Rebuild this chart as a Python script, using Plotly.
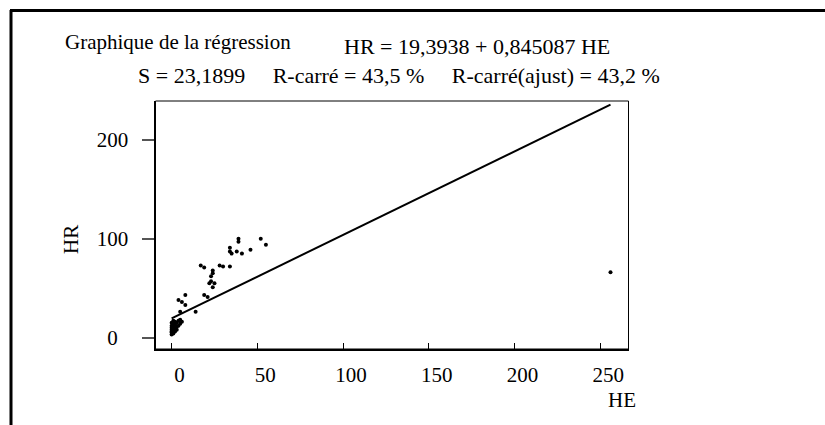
import plotly.graph_objects as go

# Observations: heures HE and HR
he = [0, 0, 0, 0, 0, 0, 0, 1, 1, 1, 1, 1, 1, 2, 2, 2, 2, 3, 3, 3, 4, 4, 5, 5, 6,
      4, 6, 8, 5, 8, 14, 19, 21, 17, 19, 28, 30, 34, 24, 24, 23, 23, 25, 24, 22,
      34, 34, 35, 38, 41, 39, 39, 46, 52, 55, 256]
hr = [3, 5, 6, 8, 10, 12, 15, 4, 7, 9, 11, 14, 17, 6, 9, 13, 16, 8, 11, 15, 12, 17, 14, 18, 16,
      38, 36, 33, 26, 43, 26, 43, 41, 73, 71, 73, 72, 72, 68, 65, 62, 57, 55, 51, 55,
      91, 87, 85, 87, 85, 100, 97, 89, 100, 94, 66]

# Fitted regression
intercept = 19.3938
slope = 0.845087
s_value = "23,1899"
r2 = "43,5"
r2_adj = "43,2"

x_ticks = [0, 50, 100, 150, 200, 250]
y_ticks = [0, 100, 200]
# y labels are centred under one another: pad short labels with figure spaces
y_labels = [str(v) + "\u2007" * ((3 - len(str(v))) // 2) for v in y_ticks]

W, H = 825, 425
FONT = "Liberation Serif, Times New Roman, serif"


def px(x):
    return x / W


def py(y):
    return 1 - y / H


x_line = [min(he), max(he)]
y_line = [intercept + slope * v for v in x_line]

fig = go.Figure()
fig.add_trace(go.Scatter(x=he, y=hr, mode="markers",
                         marker=dict(color="black", size=4, symbol="circle"),
                         showlegend=False, hoverinfo="skip"))
fig.add_trace(go.Scatter(x=x_line, y=y_line, mode="lines",
                         line=dict(color="black", width=2),
                         showlegend=False, hoverinfo="skip"))

fig.update_layout(
    width=W, height=H,
    margin=dict(l=0, r=0, t=0, b=0),
    paper_bgcolor="white", plot_bgcolor="white",
    font=dict(family=FONT, size=21, color="black"),
    xaxis=dict(domain=[px(155.5), px(628.5)], range=[-9.4, 266.5],
               tickvals=x_ticks, ticktext=[str(v) for v in x_ticks],
               ticks="inside", ticklen=6, tickcolor="black", tickwidth=1,
               showline=True, linecolor="black", linewidth=2,
               showgrid=False, zeroline=False,
               ticklabelshift=8, ticklabelstandoff=6),
    yaxis=dict(domain=[py(349), py(101)], range=[-11.6, 239.5],
               tickvals=y_ticks, ticktext=y_labels,
               ticks="outside", ticklen=12, tickcolor="#555555", tickwidth=2,
               showline=True, linecolor="black", linewidth=2,
               showgrid=False, zeroline=False,
               ticklabelstandoff=9),
    shapes=[
        # thin box around the plotting area
        dict(type="rect", xref="paper", yref="paper",
             x0=px(155.5), x1=px(628.5), y0=py(349), y1=py(101),
             line=dict(color="black", width=1)),
        # outer frame: left and top edges
        dict(type="line", xref="paper", yref="paper",
             x0=px(11), x1=px(11), y0=py(10), y1=0,
             line=dict(color="black", width=3)),
        dict(type="line", xref="paper", yref="paper",
             x0=px(10), x1=1, y0=py(10.5), y1=py(10.5),
             line=dict(color="black", width=3)),
    ],
    annotations=[
        dict(text="Graphique de la régression", xref="paper", yref="paper",
             x=px(63), y=py(42), xanchor="left", yanchor="middle",
             showarrow=False, font=dict(size=21)),
        dict(text=f"HR = {intercept:.4f} + {slope:.6f} HE".replace(".", ","),
             xref="paper", yref="paper",
             x=px(342), y=py(46), xanchor="left", yanchor="middle",
             showarrow=False, font=dict(size=22)),
        dict(text=f"S = {s_value}&nbsp;&nbsp;&nbsp;&nbsp;&nbsp;R-carré = {r2} %"
                  f"&nbsp;&nbsp;&nbsp;&nbsp;&nbsp;R-carré(ajust) = {r2_adj} %",
             xref="paper", yref="paper",
             x=px(136), y=py(75), xanchor="left", yanchor="middle",
             showarrow=False, font=dict(size=22)),
        dict(text="HE", xref="paper", yref="paper",
             x=px(622), y=py(400), xanchor="center", yanchor="middle",
             showarrow=False, font=dict(size=21)),
        dict(text="HR", xref="paper", yref="paper",
             x=px(71), y=py(240), xanchor="center", yanchor="middle",
             textangle=-90, showarrow=False, font=dict(size=21)),
    ],
)

fig.write_html("out.html")
